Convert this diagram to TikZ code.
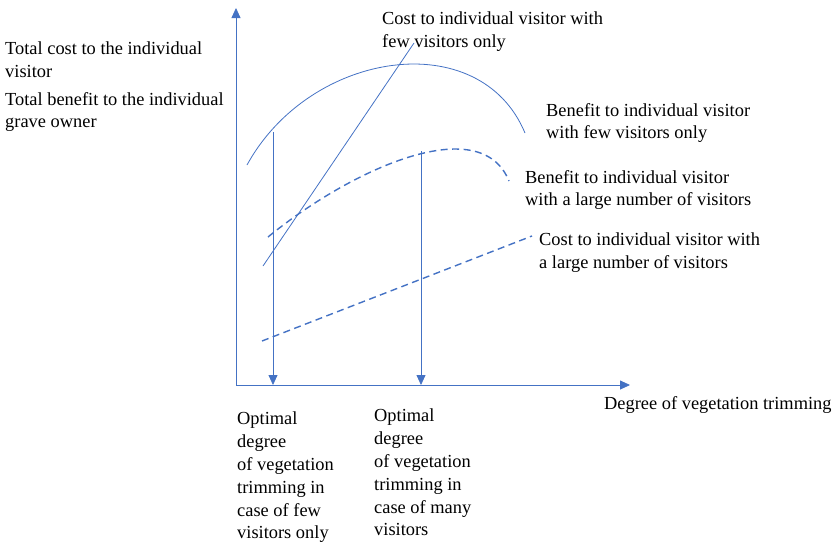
\documentclass[tikz,border=0pt]{standalone}
\usepackage{fontspec}
\setmainfont{Liberation Serif}
\usetikzlibrary{arrows.meta}
\definecolor{chartblue}{HTML}{4472C4}
\tikzset{
  lbl/.style={anchor=north west,inner sep=0pt,align=left,
    font=\fontsize{18.4}{22.6}\selectfont},
  optlbl/.style={lbl,font=\fontsize{18.4}{22.8}\selectfont},
  axis/.style={draw=chartblue,line width=0.8pt,-{Triangle[width=9pt,length=10pt]}},
  solidcurve/.style={draw=chartblue,line width=0.8pt},
  dashcurve/.style={draw=chartblue,line width=1.4pt,dash pattern=on 7pt off 4.5pt},
  optarrow/.style={draw=chartblue,line width=0.8pt,-{Triangle[width=9pt,length=10pt]}}
}
\begin{document}
\begin{tikzpicture}[x=1pt,y=-1pt]
\useasboundingbox (0,0) rectangle (835,544);

% axes
\coordinate (origin) at (236,385);
\coordinate (ytip) at (236,8);
\coordinate (xtip) at (630,385);
\draw[axis] (origin) -- (ytip);
\draw[axis] (origin) -- (xtip);

% curves
\coordinate (benfewstart) at (247,165);
\coordinate (benfewend) at (525,133);
\draw[solidcurve] (benfewstart) .. controls (310,50) and (480,25) .. (benfewend);

\coordinate (costfewstart) at (263,266);
\coordinate (costfewend) at (414,43);
\draw[solidcurve] (costfewstart) -- (costfewend);

\coordinate (benlargestart) at (268,237);
\coordinate (benlargeend) at (509,181);
\draw[dashcurve] (benlargestart) .. controls (350,170) and (480,110) .. (benlargeend);

\coordinate (costlargestart) at (262,341);
\coordinate (costlargeend) at (532,236);
\draw[dashcurve] (costlargestart) -- (costlargeend);

% optimum arrows
\coordinate (optfewtop) at (273,132);
\coordinate (optfewbot) at (273,385);
\coordinate (optmanytop) at (421,151);
\coordinate (optmanybot) at (421,385);
\draw[optarrow] (optfewtop) -- (optfewbot);
\draw[optarrow] (optmanytop) -- (optmanybot);

% labels
\node[lbl] (totalcost) at (5,42) {Total cost to the individual\\visitor};
\node[lbl] (totalbenefit) at (5,92) {Total benefit to the individual\\grave owner};
\node[lbl] (costfew) at (382,12) {Cost to individual visitor with\\few visitors only};
\node[lbl] (benfew) at (546,103) {Benefit to individual visitor\\with few visitors only};
\node[lbl] (benlarge) at (525,170) {Benefit to individual visitor\\with a large number of visitors};
\node[lbl] (costlarge) at (539,233) {Cost to individual visitor with\\a large number of visitors};
\node[lbl] (xlabel) at (604,396) {Degree of vegetation trimming};
\node[optlbl] (optfew) at (237,412) {Optimal\\degree\\of vegetation\\trimming in\\case of few\\visitors only};
\node[optlbl] (optmany) at (374,409) {Optimal\\degree\\of vegetation\\trimming in\\case of many\\visitors};
\end{tikzpicture}
\end{document}
